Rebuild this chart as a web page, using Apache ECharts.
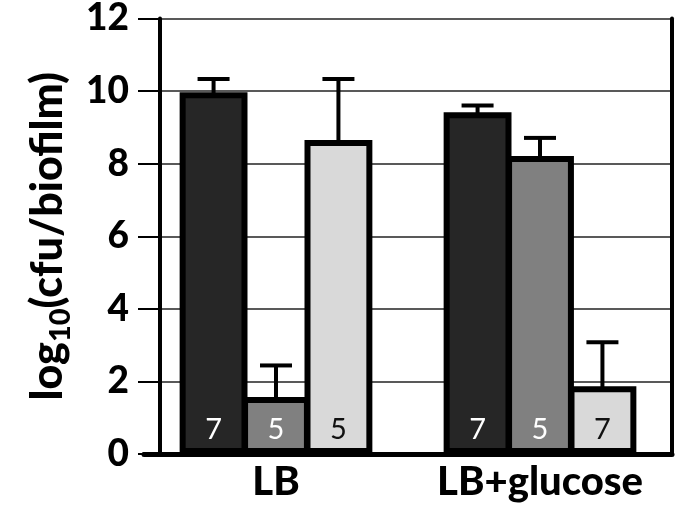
<!DOCTYPE html>
<html><head><meta charset="utf-8">
<script src="https://cdn.jsdelivr.net/npm/echarts@6/dist/echarts.min.js"></script>
<style>html,body{margin:0;padding:0;background:#fff}#c{width:685px;height:513px}</style>
</head><body><div id="c"></div>
<script>
var categories = ['LB', 'LB+glucose'];
var series1 = [9.97, 9.42];
var series2 = [1.57, 8.21];
var series3 = [8.65, 1.87];
var err1 = [0.36, 0.18];
var err2 = [0.87, 0.5];
var err3 = [1.68, 1.21];
var n1 = ['7', '7'];
var n2 = ['5', '5'];
var n3 = ['5', '7'];
var yTicks = [0, 2, 4, 6, 8, 10, 12];

var colors = ['#262626', '#808080', '#d9d9d9'];
var labelColors = ['#ffffff', '#ffffff', '#111111'];
var vals = [series1, series2, series3];
var errs = [err1, err2, err3];
var ns = [n1, n2, n3];

var chart = echarts.init(document.getElementById('c'), null, {renderer: 'canvas'});
var seriesList = [];
vals.forEach(function (v, i) {
  seriesList.push({
    type: 'bar', data: v, barCategoryGap: '27%', barGap: '-8%',
    itemStyle: {color: colors[i], borderColor: '#000', borderWidth: 6},
    label: {show: true, position: 'insideBottom', distance: 10,
      formatter: function (p) { return ns[i][p.dataIndex]; },
      color: labelColors[i], fontFamily: 'Lato', fontSize: 29},
    z: 2
  });
});
vals.forEach(function (v, i) {
  seriesList.push({
    type: 'custom', z: 3,
    data: v.map(function (val, k) { return [k, val, val + errs[i][k]]; }),
    renderItem: function (params, api) {
      var barModel = chart.getModel().getSeriesByIndex(i);
      var layout = barModel.getData().getItemLayout(params.dataIndex);
      var top = api.coord([api.value(0), api.value(2)]);
      var base = api.coord([api.value(0), api.value(1)]);
      var x = layout ? layout.x + layout.width / 2 : base[0];
      var st = {stroke: '#000', lineWidth: 4};
      return {type: 'group', children: [
        {type: 'line', shape: {x1: x, y1: base[1] + 2, x2: x, y2: top[1]}, style: st},
        {type: 'line', shape: {x1: x - 16, y1: top[1], x2: x + 16, y2: top[1]}, style: st}
      ]};
    }
  });
});

chart.setOption({
  animation: false,
  grid: {left: 144, right: 13, top: 17, bottom: 59},
  xAxis: [{
    type: 'category', data: categories,
    axisLine: {lineStyle: {color: '#000', width: 5}},
    axisTick: {show: false},
    axisLabel: {interval: 0, color: '#000', fontFamily: 'Lato', fontWeight: 900, fontSize: 40, margin: 8}
  }, {
    type: 'category', data: categories, position: 'top',
    axisLine: {show: true, lineStyle: {color: '#000', width: 4}},
    axisTick: {show: false}, axisLabel: {show: false}, splitLine: {show: false}
  }],
  yAxis: [{
    type: 'value', min: 0, max: 12, interval: 2, offset: -16,
    name: '{a|log}{s|10}{a|(cfu/biofilm)}',
    nameLocation: 'middle', nameRotate: 90, nameGap: 72,
    nameTextStyle: {rich: {
      a: {fontFamily: 'Lato', fontWeight: 900, fontSize: 43, color: '#000', lineHeight: 54, verticalAlign: 'middle'},
      s: {fontFamily: 'Lato', fontWeight: 900, fontSize: 29, color: '#000', lineHeight: 54, verticalAlign: 'bottom'}
    }},
    axisLine: {show: true, lineStyle: {color: '#000', width: 4}},
    axisTick: {show: true, length: 22, lineStyle: {color: '#000', width: 2}},
    splitLine: {show: true, lineStyle: {color: '#222', width: 1.5}},
    axisLabel: {color: '#000', fontFamily: 'Lato', fontWeight: 900, fontSize: 37, margin: 31,
      formatter: function (v) { return yTicks.indexOf(v) >= 0 ? String(v) : ''; }}
  }, {
    type: 'value', min: 0, max: 12, interval: 2, position: 'right',
    axisLine: {show: true, lineStyle: {color: '#000', width: 4}},
    axisTick: {show: false}, axisLabel: {show: false}, splitLine: {show: false}
  }],
  series: seriesList
});
</script></body></html>
